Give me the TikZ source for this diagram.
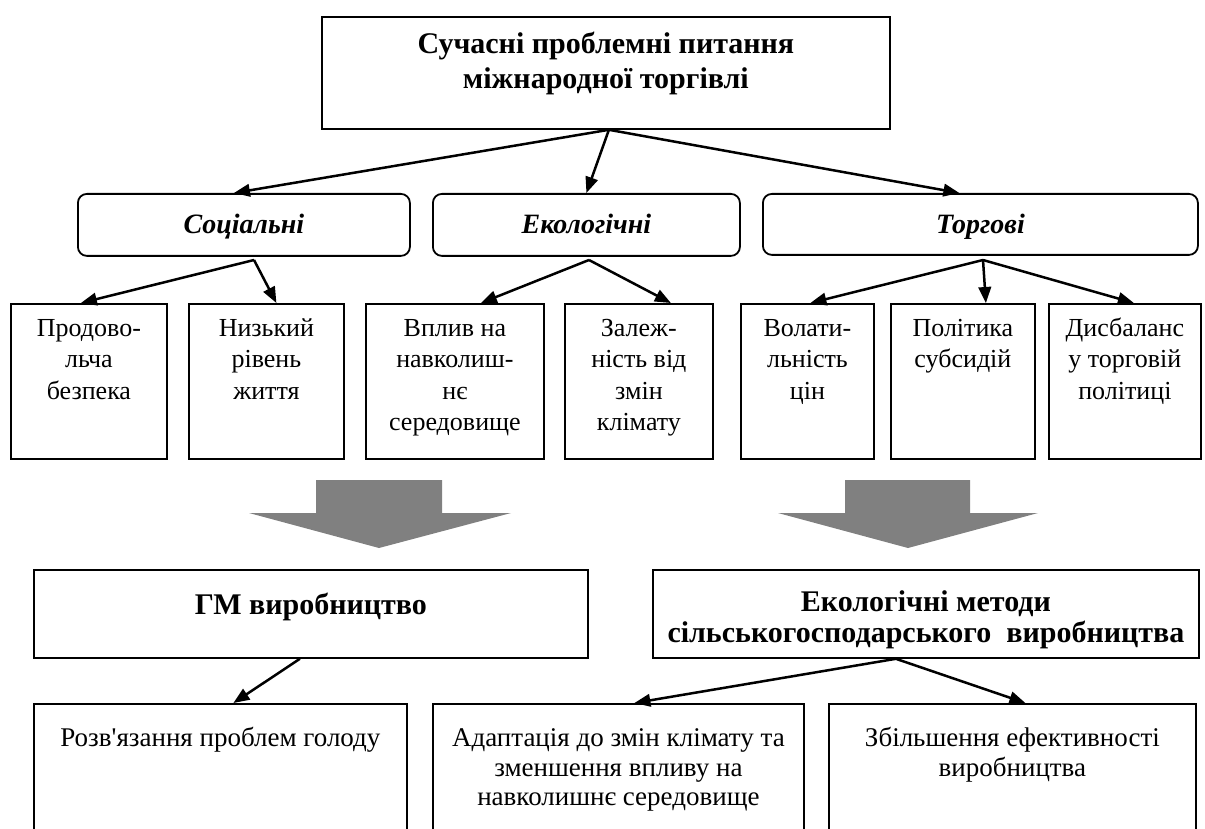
\documentclass[tikz,border=0pt]{standalone}
\usepackage{fontspec}
\newfontfamily\lib{Liberation Serif}
\usetikzlibrary{arrows.meta}
\definecolor{bigarrow}{RGB}{128,128,128}
\begin{document}
\begin{tikzpicture}[x=1pt,y=-1pt,
  box/.style={draw=black, line width=1.8pt, inner sep=0pt, anchor=north west},
  rbox/.style={box, rounded corners=9pt},
  conn/.style={line width=2.5pt, -{Triangle[length=16pt,width=12.5pt]}},
  titletxt/.style={font=\lib\bfseries\fontsize{30}{35}\selectfont, align=center, inner sep=0pt, anchor=north},
  cattxt/.style={font=\lib\bfseries\itshape\fontsize{28}{33.6}\selectfont, inner sep=0pt, anchor=north},
  itemtxt/.style={font=\lib\fontsize{26}{31.5}\selectfont, align=center, inner sep=0pt, anchor=north},
  restxt/.style={font=\lib\bfseries\fontsize{30}{31}\selectfont, align=center, inner sep=0pt, anchor=north},
  outtxt/.style={font=\lib\fontsize{27}{29.5}\selectfont, align=center, inner sep=0pt, anchor=north}
]
\useasboundingbox (0,0) rectangle (1205,829);

% boxes
\node[box, minimum width=568pt, minimum height=112pt] (top) at (321,16) {};
\node[rbox, minimum width=332pt, minimum height=62pt] (soc) at (77,193) {};
\node[rbox, minimum width=307pt, minimum height=62pt] (eco) at (432,193) {};
\node[rbox, minimum width=435pt, minimum height=61pt] (tor) at (762,193) {};

\node[box, minimum width=156pt, minimum height=155pt] (p1) at (10,303) {};
\node[box, minimum width=155pt, minimum height=155pt] (p2) at (188,303) {};
\node[box, minimum width=178pt, minimum height=155pt] (p3) at (365,303) {};
\node[box, minimum width=148pt, minimum height=155pt] (p4) at (564,303) {};
\node[box, minimum width=133pt, minimum height=155pt] (p5) at (740,303) {};
\node[box, minimum width=144pt, minimum height=155pt] (p6) at (890,303) {};
\node[box, minimum width=152pt, minimum height=155pt] (p7) at (1048,303) {};

\node[box, minimum width=554pt, minimum height=88pt] (gm) at (33,569) {};
\node[box, minimum width=546pt, minimum height=88pt] (em) at (652,569) {};

\node[box, minimum width=373pt, minimum height=140pt] (r1) at (33,703) {};
\node[box, minimum width=371pt, minimum height=140pt] (r2) at (432,703) {};
\node[box, minimum width=367pt, minimum height=140pt] (r3) at (828,703) {};

% texts
\node[titletxt] (topt) at ([yshift=-12.5pt]top.north) {\strut Сучасні проблемні питання\\міжнародної торгівлі};
\node[cattxt] (soct) at ([yshift=-16.5pt]soc.north) {\strut Соціальні};
\node[cattxt] (ecot) at ([yshift=-16.5pt]eco.north) {\strut Екологічні};
\node[cattxt] (tort) at ([yshift=-16.5pt]tor.north) {\strut Торгові};

\node[itemtxt] (p1t) at ([yshift=-11pt]p1.north) {\strut Продово-\\льча\\безпека};
\node[itemtxt] (p2t) at ([yshift=-11pt]p2.north) {\strut Низький\\рівень\\життя};
\node[itemtxt] (p3t) at ([yshift=-11pt]p3.north) {\strut Вплив на\\навколиш-\\нє\\середовище};
\node[itemtxt] (p4t) at ([yshift=-11pt]p4.north) {\strut Залеж-\\ність від\\змін\\клімату};
\node[itemtxt] (p5t) at ([yshift=-11pt]p5.north) {\strut Волати-\\льність\\цін};
\node[itemtxt] (p6t) at ([yshift=-11pt]p6.north) {\strut Політика\\субсидій};
\node[itemtxt] (p7t) at ([yshift=-11pt]p7.north) {\strut Дисбаланс\\у торговій\\політиці};

\node[restxt] (gmt) at ([yshift=-23.3pt]gm.north) {\strut ГМ виробництво};
\node[restxt] (emt) at ([yshift=-21pt]em.north) {\strut Екологічні методи\\сільськогосподарського\ \ виробництва};

\node[outtxt] (r1t) at ([yshift=-23pt]r1.north) {\strut Розв'язання проблем голоду};
\node[outtxt] (r2t) at ([yshift=-23pt]r2.north) {\strut Адаптація до змін клімату та\\зменшення впливу на\\навколишнє середовище};
\node[outtxt] (r3t) at ([yshift=-23pt]r3.north) {\strut Збільшення ефективності\\виробництва};

% split points
\coordinate (socs) at (254,260);
\coordinate (ecos) at (589,260);
\coordinate (tors) at (983,260);

% connectors
\draw[conn] ([xshift=3pt]top.south) -- ([xshift=-10pt]soc.north);
\draw[conn] ([xshift=3pt]top.south) -- (eco.north);
\draw[conn] ([xshift=3pt]top.south) -- ([xshift=-21pt]tor.north);

\draw[conn] (socs) -- ([xshift=-8pt]p1.north);
\draw[conn] (socs) -- ([xshift=10pt]p2.north);
\draw[conn] (ecos) -- ([xshift=26pt]p3.north);
\draw[conn] (ecos) -- ([xshift=32pt]p4.north);
\draw[conn] (tors) -- ([xshift=3pt]p5.north);
\draw[conn] (tors) -- ([xshift=23pt]p6.north);
\draw[conn] (tors) -- ([xshift=9pt]p7.north);

\draw[conn] ([xshift=-11pt]gm.south) -- ([xshift=13pt]r1.north);
\draw[conn] ([xshift=-30pt]em.south) -- ([xshift=16pt]r2.north);
\draw[conn] ([xshift=-30pt]em.south) -- ([xshift=13pt]r3.north);

% big grey arrows
\fill[bigarrow] (316,480) -- (442,480) -- (442,513) -- (511,513) -- (379,548) -- (249,513) -- (316,513) -- cycle;
\fill[bigarrow] (845,480) -- (970,480) -- (970,513) -- (1038,513) -- (908,548) -- (778,513) -- (845,513) -- cycle;
\end{tikzpicture}
\end{document}
